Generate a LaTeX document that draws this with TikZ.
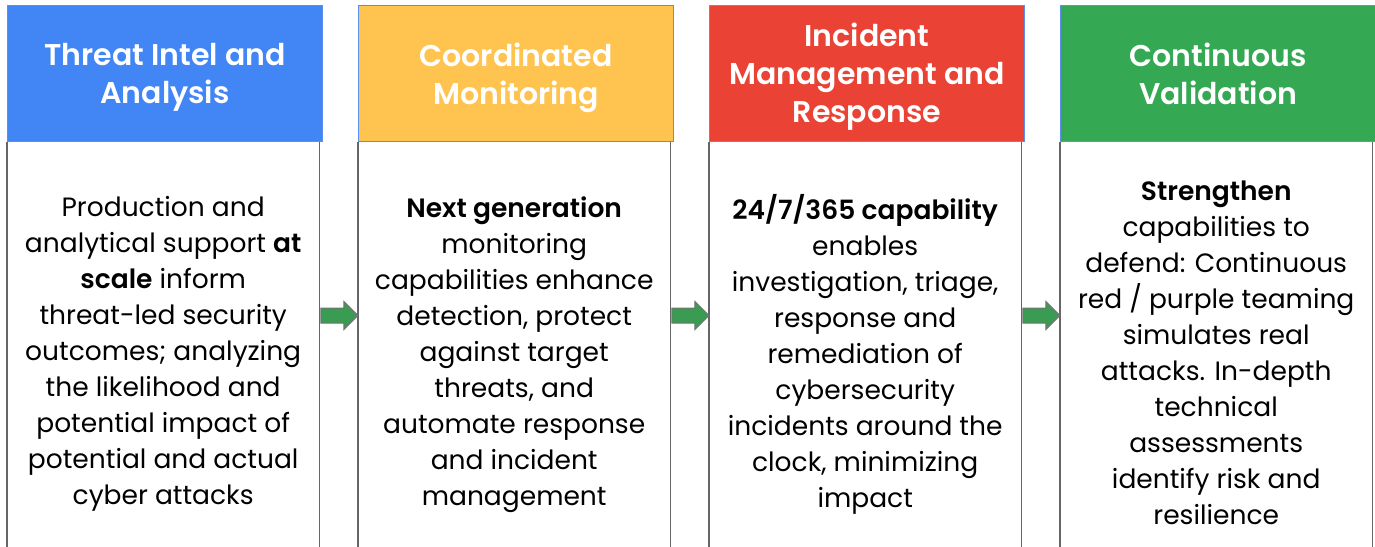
\documentclass[tikz,border=0pt]{standalone}
\usepackage{fontspec}
\setmainfont{Poppins}[BoldFont={Poppins SemiBold}]
\usepackage{xcolor}
\usetikzlibrary{positioning,calc,shapes.arrows}

\definecolor{gblue}{HTML}{4285F4}
\definecolor{gyellow}{HTML}{FFC44F}
\definecolor{gred}{HTML}{EA4335}
\definecolor{ggreen}{HTML}{34A853}
\definecolor{arrowgreen}{HTML}{3A9B52}
\definecolor{edgeblue}{HTML}{5B8FEF}

\tikzset{
  head/.style={draw=edgeblue, line width=1pt, minimum width=315pt,
    minimum height=136pt, anchor=north west, inner sep=0pt},
  headtext/.style={text=white, align=center, inner sep=0pt,
    font=\fontsize{30}{38}\selectfont\bfseries},
  body/.style={minimum width=312pt, minimum height=422pt, anchor=north west, inner sep=0pt},
  bodytext/.style={align=center, inner sep=0pt, font=\fontsize{26.5}{36}\selectfont},
  side/.style={draw=black!60, line width=1.5pt},
  flowarrow/.style={single arrow, fill=arrowgreen, draw=black!55, line width=1pt,
    minimum height=37pt, minimum width=27pt, single arrow head extend=6.5pt,
    inner sep=7pt, single arrow head indent=0pt, anchor=tail}
}

\begin{document}
\begin{tikzpicture}[x=1pt, y=-1pt]
\useasboundingbox (0,0) rectangle (1375,546);
\clip (0,0) rectangle (1375,546);

% column heads
\node[head, fill=gblue] (h1) at (7,5) {};
\node[head, fill=gyellow] (h2) at (358,5) {};
\node[head, fill=gred] (h3) at (709,5) {};
\node[head, fill=ggreen] (h4) at (1060,5) {};

\node[headtext] (l1) at ([yshift=-4pt]h1.center) {Threat Intel and\\Analysis};
\node[headtext] (l2) at ([yshift=-4pt]h2.center) {Coordinated\\Monitoring};
\node[headtext] (l3) at ([yshift=-3pt]h3.center) {Incident\\Management and\\Response};
\node[headtext] (l4) at ([yshift=0pt]h4.center) {Continuous\\Validation};

% column bodies
\node[body] (b1) at (h1.south west) {};
\node[body] (b2) at (h2.south west) {};
\node[body] (b3) at (h3.south west) {};
\node[body] (b4) at (h4.south west) {};

\draw[side] (b1.north west) -- (b1.south west) (b1.north east) -- (b1.south east);
\draw[side] (b2.north west) -- (b2.south west) (b2.north east) -- (b2.south east);
\draw[side] (b3.north west) -- (b3.south west) (b3.north east) -- (b3.south east);
\draw[side] (b4.north west) -- (b4.south west) (b4.north east) -- (b4.south east);

\node[bodytext] (t1) at ([yshift=-1pt]b1.center) {Production and\\analytical support \textbf{at}\\\textbf{scale} inform\\threat-led security\\outcomes; analyzing\\the likelihood and\\potential impact of\\potential and actual\\cyber attacks};
\node[bodytext] (t2) at ([yshift=-1pt]b2.center) {\textbf{Next generation}\\monitoring\\capabilities enhance\\detection, protect\\against target\\threats, and\\automate response\\and incident\\management};
\node[bodytext] (t3) at ([yshift=-1pt]b3.center) {\textbf{24/7/365 capability}\\enables\\investigation, triage,\\response and\\remediation of\\cybersecurity\\incidents around the\\clock, minimizing\\impact};
\node[bodytext] (t4) at ([yshift=0pt]b4.center) {\textbf{Strengthen}\\capabilities to\\defend: Continuous\\red / purple teaming\\simulates real\\attacks. In-depth\\technical\\assessments\\identify risk and\\resilience};

% arrows between columns
\node[flowarrow] (a12) at ($(b1.north east)+(1,173.5)$) {};
\node[flowarrow] (a23) at ($(b2.north east)+(1,173.5)$) {};
\node[flowarrow] (a34) at ($(b3.north east)+(1,173.5)$) {};
\end{tikzpicture}
\end{document}
